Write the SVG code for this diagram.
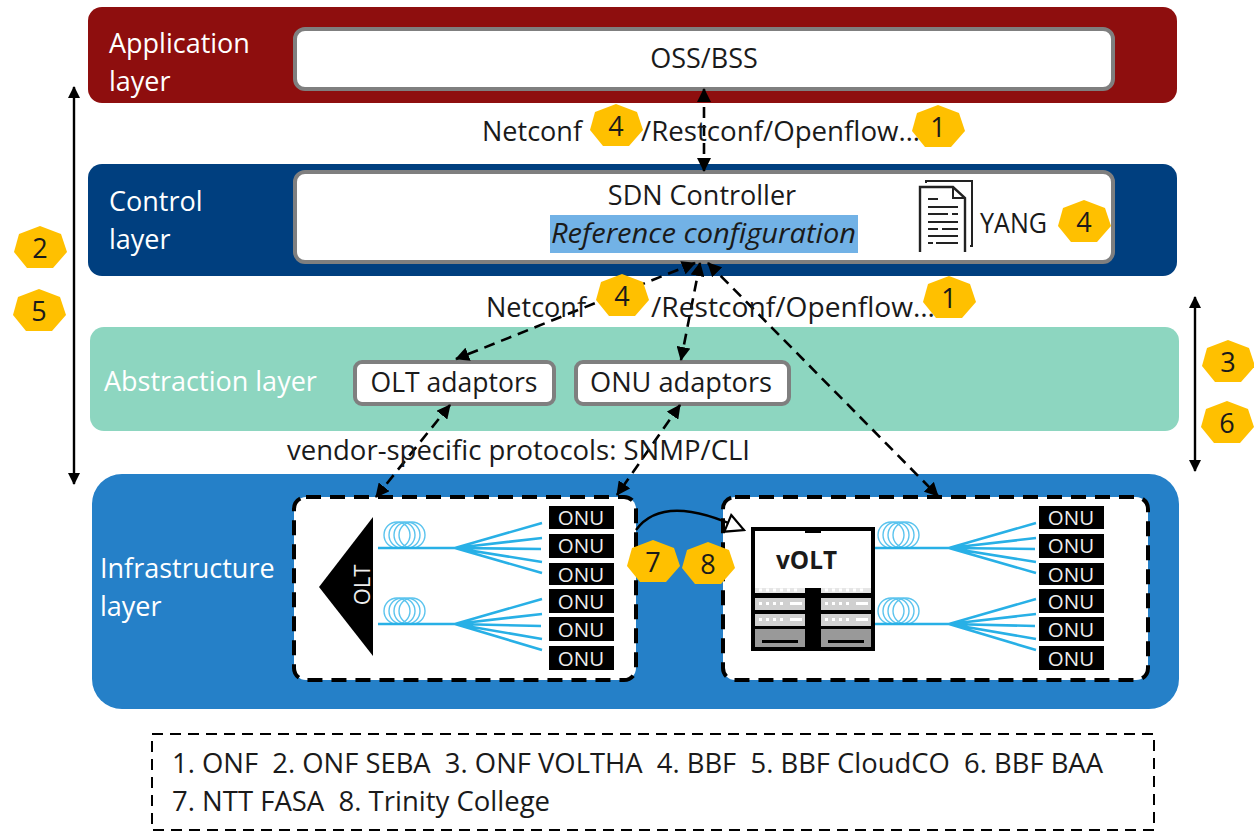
<svg xmlns="http://www.w3.org/2000/svg" xmlns:xlink="http://www.w3.org/1999/xlink" width="1254" height="831" viewBox="0 0 1254 831">
<style>
text{font-family:"Open Sans","Noto Sans","DejaVu Sans",sans-serif;font-size:27px;fill:#1a1a1a;white-space:pre}
.w{fill:#fff}
.m{text-anchor:middle}
.box{fill:#fff;stroke:#7f7f7f;stroke-width:4}
.dash{fill:#fff;stroke:#000;stroke-width:4;stroke-dasharray:15 9}
.conn{fill:none;stroke:#000;stroke-width:2.6;stroke-dasharray:11 7;marker-start:url(#a);marker-end:url(#a)}
.solid{fill:none;stroke:#000;stroke-width:2.4;marker-start:url(#s);marker-end:url(#s)}
.hep{fill:#ffc000}
.onu{fill:#000}
.ot{fill:#eee;font-size:20.5px;text-anchor:middle}
.f{fill:none;stroke:#28b0e6;stroke-width:2.6}
.c{fill:none;stroke:#5cc4ee;stroke-width:1.4}
.l1{fill:#e6e6e6}.l2{fill:#d0d0d0}.l3{fill:#999}.dot{fill:#fff}
</style>
<defs>
<marker id="a" viewBox="0 0 14 14" refX="13" refY="7" markerWidth="14" markerHeight="14" markerUnits="userSpaceOnUse" orient="auto-start-reverse"><path d="M0 0L14 7L0 14Z" fill="#000"/></marker>
<marker id="s" viewBox="0 0 12 12" refX="11" refY="6" markerWidth="12" markerHeight="12" markerUnits="userSpaceOnUse" orient="auto-start-reverse"><path d="M0 0L12 6L0 12Z" fill="#000"/></marker>
<marker id="o" viewBox="-20 -12 22 24" refX="0" refY="0" markerWidth="22" markerHeight="24" markerUnits="userSpaceOnUse" orient="auto"><path d="M-18 -8L0 0L-17 10Z" fill="#fff" stroke="#000" stroke-width="2.2"/></marker>
<polygon id="h" class="hep" points="0,-22 21,-14 27,4 13,20 -13,20 -26,4 -21,-14"/>
<g id="tree">
<circle class="c" cx="397" cy="535" r="13"/><circle class="c" cx="402" cy="535" r="13"/><circle class="c" cx="407" cy="535" r="13"/><circle class="c" cx="412" cy="535" r="13"/>
<circle class="c" cx="397" cy="611" r="13"/><circle class="c" cx="402" cy="611" r="13"/><circle class="c" cx="407" cy="611" r="13"/><circle class="c" cx="412" cy="611" r="13"/>
<path class="f" d="M378 548H455L542 523M455 548L542 538M455 548L541 549M455 548L542 562M455 548L542 573"/>
<path class="f" d="M378 624H455L542 599M455 624L542 614M455 624L541 626M455 624L542 639M455 624L542 650"/>
</g>
</defs>
<rect width="1254" height="831" fill="#fff"/>

<g id="application-layer"><rect x="88" y="7" width="1089" height="96" rx="14" fill="#8e0e0e"/><text class="w" x="109" y="53">Application</text><text class="w" x="109" y="91">layer</text></g>
<g id="oss-bss"><rect class="box" x="295" y="29" width="818" height="60" rx="10"/><text class="m" x="704" y="68">OSS/BSS</text></g>
<g id="control-layer"><rect x="88" y="164" width="1089" height="112" rx="14" fill="#003f7f"/><text class="w" x="109" y="211">Control</text><text class="w" x="109" y="249">layer</text></g>
<g id="sdn-controller"><rect class="box" x="295" y="172" width="818" height="90" rx="10"/>
<rect x="550" y="215" width="308" height="38" fill="#72b2e6"/>
<text class="m" x="702" y="205">SDN Controller</text>
<text x="551" y="243" font-style="italic" textLength="305" lengthAdjust="spacingAndGlyphs">Reference configuration</text></g>
<g id="yang-doc" fill="none" stroke="#222" stroke-width="2">
<path d="M926 183V181H972V246H970"/>
<path d="M965 252V198L953 187H920V252" stroke-width="2.4"/><path d="M953 187V198H965"/>
<path d="M928 199H938M928 207H958M928 214H948M952 214H958M928 222H958M928 229H938M942 229H958M928 236H958M928 243H933M936 243H958" stroke-width="2.2"/>
</g>
<text id="yang-label" x="980" y="233" textLength="67" lengthAdjust="spacingAndGlyphs">YANG</text>
<g id="abstraction-layer"><rect x="90" y="327" width="1089" height="104" rx="14" fill="#8dd6c0"/><text class="w" x="104" y="391">Abstraction layer</text></g>
<g id="olt-adaptors"><rect class="box" x="355" y="362" width="199" height="42" rx="7"/><text class="m" x="454" y="392" textLength="167" lengthAdjust="spacingAndGlyphs">OLT adaptors</text></g>
<g id="onu-adaptors"><rect class="box" x="576" y="362" width="213" height="42" rx="7"/><text class="m" x="681" y="392" textLength="182" lengthAdjust="spacingAndGlyphs">ONU adaptors</text></g>
<g id="infrastructure-layer"><rect x="92" y="474" width="1087" height="235" rx="30" fill="#2580c8"/><text class="w" x="100" y="578">Infrastructure</text><text class="w" x="100" y="616">layer</text></g>

<g id="left-pon"><rect class="dash" x="294" y="497" width="342" height="183" rx="12"/>
<polygon points="373,517 319,587 373,656" fill="#000"/>
<text transform="translate(370,585) rotate(-90)" class="m" style="fill:#eee;font-size:22px">OLT</text>
<use xlink:href="#tree" href="#tree"/>
<rect class="onu" x="549" y="506" width="65" height="23"/><text class="ot" x="581" y="525">ONU</text>
<rect class="onu" x="549" y="534" width="65" height="24"/><text class="ot" x="581" y="553">ONU</text>
<rect class="onu" x="549" y="563" width="65" height="22"/><text class="ot" x="581" y="582">ONU</text>
<rect class="onu" x="549" y="589" width="65" height="24"/><text class="ot" x="581" y="609">ONU</text>
<rect class="onu" x="549" y="617" width="65" height="24"/><text class="ot" x="581" y="637">ONU</text>
<rect class="onu" x="549" y="646" width="65" height="24"/><text class="ot" x="581" y="666">ONU</text></g>

<g id="right-pon"><rect class="dash" x="723" y="497" width="425" height="183" rx="12"/>
<use xlink:href="#tree" href="#tree" transform="translate(494,0)"/>
<rect class="onu" x="1039" y="506" width="65" height="23"/><text class="ot" x="1071" y="525">ONU</text>
<rect class="onu" x="1039" y="534" width="65" height="24"/><text class="ot" x="1071" y="553">ONU</text>
<rect class="onu" x="1039" y="563" width="65" height="22"/><text class="ot" x="1071" y="582">ONU</text>
<rect class="onu" x="1039" y="589" width="65" height="24"/><text class="ot" x="1071" y="609">ONU</text>
<rect class="onu" x="1039" y="617" width="65" height="24"/><text class="ot" x="1071" y="637">ONU</text>
<rect class="onu" x="1039" y="646" width="65" height="24"/><text class="ot" x="1071" y="666">ONU</text></g>

<g id="volt"><rect x="751" y="527" width="124" height="124" fill="#000"/>
<rect x="755" y="531" width="116" height="57" fill="#fff"/>
<rect x="805" y="531" width="16" height="2" fill="#000"/>
<rect class="l1" x="755" y="588" width="50" height="5"/><rect class="l1" x="821" y="588" width="50" height="5"/>
<rect class="l2" x="755" y="598" width="50" height="12"/><rect class="l2" x="821" y="598" width="50" height="12"/>
<rect class="l2" x="755" y="614" width="50" height="12"/><rect class="l2" x="821" y="614" width="50" height="12"/>
<rect class="l3" x="755" y="629" width="50" height="18"/><rect class="l3" x="821" y="629" width="50" height="18"/>
<path stroke="#000" stroke-width="3" d="M762 641.500H798M828 641.500H864"/>
<path stroke="#fff" stroke-width="3" stroke-dasharray="3 4" d="M759 603.500H785M825 603.500H851M759 619.500H785M825 619.500H851M759 590H800M825 590H866"/>
<path stroke="#fff" stroke-width="3" d="M790 603.500H802M856 603.500H868M790 619.500H802M856 619.500H868"/>
<text x="776" y="569" style="font-weight:700;font-size:25px" textLength="61" lengthAdjust="spacingAndGlyphs">vOLT</text></g>

<g id="connectors">
<path class="conn" d="M704 89V171"/>
<path class="conn" d="M695 263L456 359"/>
<path class="conn" d="M700 263L681 360"/>
<path class="conn" d="M708 263L938 496"/>
<path class="conn" d="M450 405L376 497"/>
<path class="conn" d="M680 405L617 495"/>
<path fill="none" stroke="#000" stroke-width="2.4" marker-end="url(#o)" d="M636 530C655 504 692 505 744 530"/>
<path class="solid" d="M74 87V484"/>
<path class="solid" d="M1195 297V471"/>
</g>

<g id="protocol-labels">
<text x="482" y="141" textLength="100" lengthAdjust="spacingAndGlyphs">Netconf</text><text x="641" y="141" textLength="279" lengthAdjust="spacingAndGlyphs">/Restconf/Openflow…</text>
<text x="486" y="317" textLength="100" lengthAdjust="spacingAndGlyphs">Netconf</text><text x="651" y="317" textLength="284" lengthAdjust="spacingAndGlyphs">/Restconf/Openflow…</text>
<text x="287" y="460" textLength="463" lengthAdjust="spacingAndGlyphs">vendor-specific protocols: SNMP/CLI</text>
</g>

<g id="badge-4a"><use href="#h" x="616" y="126"/><text class="m" x="616" y="136">4</text></g>
<g id="badge-1a"><use href="#h" x="938" y="127"/><text class="m" x="938" y="137">1</text></g>
<g id="badge-2"><use href="#h" x="40" y="248"/><text class="m" x="40" y="258">2</text></g>
<g id="badge-5"><use href="#h" x="39" y="311"/><text class="m" x="39" y="321">5</text></g>
<g id="badge-4b"><use href="#h" x="1084" y="222"/><text class="m" x="1084" y="232">4</text></g>
<g id="badge-4c"><use href="#h" x="622" y="296"/><text class="m" x="622" y="306">4</text></g>
<g id="badge-1b"><use href="#h" x="949" y="298"/><text class="m" x="949" y="308">1</text></g>
<g id="badge-3"><use href="#h" x="1228" y="362"/><text class="m" x="1228" y="372">3</text></g>
<g id="badge-6"><use href="#h" x="1227" y="423"/><text class="m" x="1227" y="433">6</text></g>
<g id="badge-7"><use href="#h" x="653" y="562"/><text class="m" x="653" y="572">7</text></g>
<g id="badge-8"><use href="#h" x="708" y="564"/><text class="m" x="708" y="574">8</text></g>

<g id="legend"><rect x="152" y="734" width="1002" height="96" fill="#fff" stroke="#000" stroke-width="2" stroke-dasharray="11 7"/>
<text x="172" y="773" textLength="931" lengthAdjust="spacingAndGlyphs">1. ONF  2. ONF SEBA  3. ONF VOLTHA  4. BBF  5. BBF CloudCO  6. BBF BAA</text>
<text x="172" y="811" textLength="378" lengthAdjust="spacingAndGlyphs">7. NTT FASA  8. Trinity College</text></g>
</svg>
